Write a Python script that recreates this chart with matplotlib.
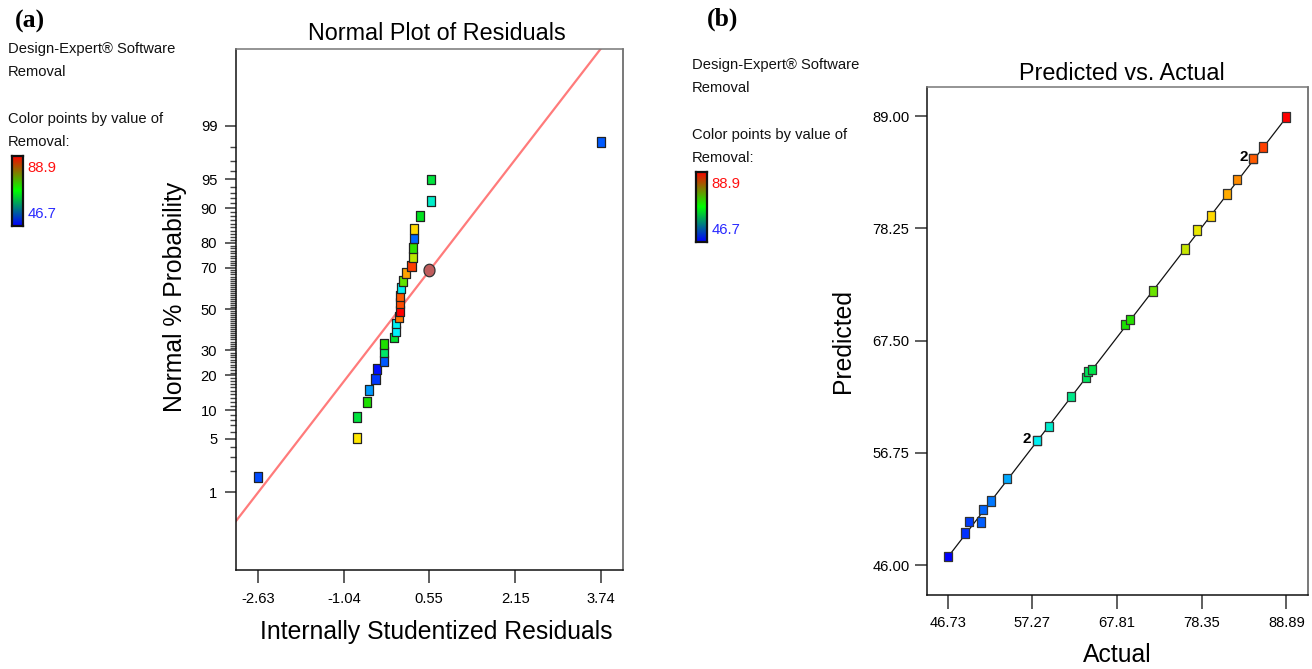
import matplotlib
matplotlib.use("Agg")
import matplotlib.pyplot as plt
import numpy as np
from matplotlib.colors import LinearSegmentedColormap, Normalize
from statistics import NormalDist
from collections import Counter

plt.rcParams['font.family'] = ['Liberation Sans', 'DejaVu Sans']

# ---- (a) normal plot of residuals ----
residuals = [-2.63, -0.80, -0.79, -0.60, -0.57, -0.45, -0.43, -0.30, -0.29, -0.29,
             -0.11, -0.06, -0.06, -0.02, 0.01, 0.01, 0.01, 0.02, 0.06, 0.11,
             0.22, 0.24, 0.25, 0.27, 0.27, 0.38, 0.58, 0.58, 3.74]
normal_prob = [1.67, 5.1, 8.5, 11.9, 15.3, 18.9, 22.3, 25.6, 29.4, 32.8,
               35.9, 39.2, 42.8, 45.9, 49.2, 53.1, 56.7, 60.6, 64.1, 67.5,
               70.9, 74.7, 78.0, 81.5, 84.6, 88.1, 91.5, 95.0, 98.3]
removal_a = [50.1, 78.8, 65.3, 69.1, 53.5, 49.2, 47.5, 50.7, 63.6, 69.1,
             65.7, 57.3, 57.8, 83.6, 88.9, 85.5, 84.9, 57.8, 72.0, 81.7,
             86.2, 75.8, 69.9, 51.3, 79.5, 66.5, 59.4, 65.3, 50.7]
flag_resid = 0.54
flag_prob = 69.0
line_slope = 0.883
resid_ticks = [-2.63, -1.04, 0.55, 2.15, 3.74]
prob_major = [1, 5, 10, 20, 30, 50, 70, 80, 90, 95, 99]

# ---- (b) predicted vs actual ----
actual = [46.73, 48.93, 49.43, 50.89, 51.17, 52.13, 54.12, 57.82, 57.82, 59.35,
          62.05, 63.96, 64.17, 64.67, 68.81, 69.44, 72.26, 76.28, 77.81, 79.48,
          81.47, 82.79, 84.79, 84.79, 86.03, 88.89]
predicted = [46.83, 49.07, 50.18, 50.12, 51.30, 52.16, 54.29, 57.93, 57.93, 59.27,
             62.14, 63.96, 64.53, 64.76, 69.07, 69.55, 72.28, 76.27, 78.09, 79.46,
             81.54, 82.94, 84.95, 84.95, 86.06, 88.93]
actual_ticks = [46.73, 57.27, 67.81, 78.35, 88.89]
pred_ticks = [46.00, 56.75, 67.50, 78.25, 89.00]
removal_min, removal_max = 46.7, 88.9

W, H = 1312, 669
fig = plt.figure(figsize=(W / 100, H / 100), dpi=100)
fig.patch.set_facecolor('white')

def fx(px):
    return px / W

def fy(py):
    return 1 - py / H

point_cmap = LinearSegmentedColormap.from_list(
    'de_points', [(0.0, '#0000ff'), (0.25, '#00f0ff'), (0.5, '#00e000'),
                  (0.76, '#ffe800'), (1.0, '#ff0000')])
legend_cmap = LinearSegmentedColormap.from_list('de_legend', ['#0000ff', '#00ff00', '#ff0000'])
norm = Normalize(removal_min, removal_max)

# rectangular marker, a bit taller than wide
rect = [(-0.41, -0.5), (0.41, -0.5), (0.41, 0.5), (-0.41, 0.5), (-0.41, -0.5)]
oval_t = np.linspace(0, 2 * np.pi, 40)
oval = list(zip(0.44 * np.cos(oval_t), 0.5 * np.sin(oval_t)))

def style_spines(ax):
    ax.spines['left'].set_color('#111111')
    ax.spines['bottom'].set_color('#111111')
    ax.spines['top'].set_color('#777777')
    ax.spines['right'].set_color('#555555')
    for s in ax.spines.values():
        s.set_linewidth(1.1)

def key_block(lx, ly):
    # header lines and the removal colour key
    for dy, txt in [(0, 'Design-Expert® Software'), (23.5, 'Removal'),
                    (70, 'Color points by value of'), (93.5, 'Removal:')]:
        fig.text(fx(lx), fy(ly + dy), txt, fontsize=10.6, va='center', ha='left', color='#111111')
    cb_top = ly + 107
    cax = fig.add_axes([fx(lx + 3.5), fy(cb_top + 70), fx(11.5), 70 / H])
    cax.imshow(np.linspace(1, 0, 100)[:, None], aspect='auto', cmap=legend_cmap)
    cax.set_xticks([])
    cax.set_yticks([])
    for s in cax.spines.values():
        s.set_linewidth(1.6)
        s.set_color('#111111')
    fig.text(fx(lx + 19.5), fy(cb_top + 12), f'{removal_max:.1f}', color='#ff1010',
             fontsize=10.7, va='center', ha='left')
    fig.text(fx(lx + 19.5), fy(cb_top + 58), f'{removal_min:.1f}', color='#2a2aff',
             fontsize=10.7, va='center', ha='left')

# ---------------- panel (a) ----------------
ax1 = fig.add_axes([fx(236), fy(570), fx(623 - 236), (570 - 49) / H])
inv = NormalDist().inv_cdf
z_pts = [inv(p / 100) for p in normal_prob]
ax1.axline((0, 0), slope=line_slope, color='#ff7b7b', lw=1.6, zorder=1)
ax1.scatter(residuals, z_pts, c=removal_a, cmap=point_cmap, norm=norm, marker=rect,
            s=9.8 ** 2 * 0.52, edgecolors='#222222', linewidths=0.9, zorder=3)
ax1.scatter([flag_resid], [inv(flag_prob / 100)], marker=oval, s=12.5 ** 2 * 0.52,
            color='#bf5c5c', edgecolors='#333333', linewidths=0.9, zorder=4)
ax1.set_xlim(-3.045, 4.155)
ax1.set_ylim(-3.31, 3.30)
ax1.set_xticks(resid_ticks)
ax1.set_xticklabels([f'{t:.2f}' for t in resid_ticks])
ax1.set_yticks([inv(p / 100) for p in prob_major])
ax1.set_yticklabels([str(p) for p in prob_major])
ax1.set_yticks([inv(p / 100) for p in range(1, 100) if p not in prob_major], minor=True)
ax1.tick_params(axis='x', length=9.4, width=1.1, pad=6.5, labelsize=10.6, color='#333333')
ax1.tick_params(axis='y', which='major', length=8, width=1.1, pad=5.5, labelsize=10.6, color='#333333')
ax1.tick_params(axis='y', which='minor', length=4.5, width=1.0, color='#444444')
style_spines(ax1)

fig.text(fx(437), fy(34), 'Normal Plot of Residuals', fontsize=16.8, ha='center', va='center')
fig.text(fx(436), fy(632), 'Internally Studentized Residuals', fontsize=17.8, ha='center', va='center')
fig.text(fx(175), fy(297), 'Normal % Probability', fontsize=17.8, ha='center', va='center',
         rotation=90)

# ---------------- panel (b) ----------------
ax2 = fig.add_axes([fx(926.5), fy(595), fx(1307.5 - 926.5), (595 - 87.3) / H])
ax2.plot([min(actual), max(actual)], [min(actual), max(actual)], color='#111111', lw=0.9, zorder=1)
ax2.scatter(actual, predicted, c=actual, cmap=point_cmap, norm=norm, marker=rect,
            s=9.2 ** 2 * 0.55, edgecolors='#333333', linewidths=0.9, zorder=3)
for (a, p), n in Counter(zip(actual, predicted)).items():
    if n > 1:
        ax2.annotate(str(n), (a, p), xytext=(-4, 1), textcoords='offset points',
                     ha='right', va='center', fontsize=11, weight='bold')
ax2.set_xlim(44.1, 91.53)
ax2.set_ylim(43.13, 91.78)
ax2.set_xticks(actual_ticks)
ax2.set_xticklabels([f'{t:.2f}' for t in actual_ticks])
ax2.set_yticks(pred_ticks)
ax2.set_yticklabels([f'{t:.2f}' for t in pred_ticks])
ax2.tick_params(axis='x', length=10, width=1.1, pad=5, labelsize=10.6, color='#333333')
ax2.tick_params(axis='y', length=8.6, width=1.1, pad=3.6, labelsize=10.6, color='#333333')
style_spines(ax2)

fig.text(fx(1122), fy(74), 'Predicted vs. Actual', fontsize=16.8, ha='center', va='center')
fig.text(fx(1117), fy(655), 'Actual', fontsize=17.8, ha='center', va='center')
fig.text(fx(843), fy(341), 'Predicted', fontsize=17.8, ha='center', va='center', rotation=90)

fig.text(fx(707), fy(19), '(b)', family='Liberation Serif', weight='bold',
         fontsize=18.5, va='center', ha='left')
fig.text(fx(15), fy(21), '(a)', family='Liberation Serif', weight='bold',
         fontsize=18.5, va='center', ha='left')

key_block(8, 49)
key_block(692, 65)

fig.savefig('out.png', dpi=100, facecolor='white')
